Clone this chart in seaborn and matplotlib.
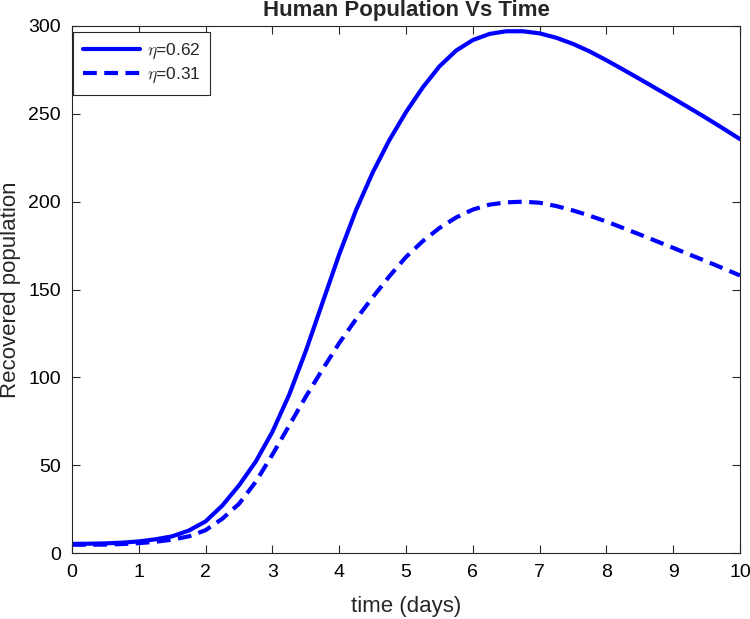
import numpy as np
import pandas as pd
import seaborn as sns
from matplotlib import pyplot as plt

# (co 0.25 dnia)
t = [0, 0.25, 0.5, 0.75, 1, 1.25, 1.5, 1.75, 2, 2.25, 2.5, 2.75, 3, 3.25, 3.5, 3.75,
     4, 4.25, 4.5, 4.75, 5, 5.25, 5.5, 5.75, 6, 6.25, 6.5, 6.75, 7, 7.25, 7.5, 7.75,
     8, 8.25, 8.5, 8.75, 9, 9.25, 9.5, 9.75, 10]
r_062 = [5.2, 5.3, 5.5, 5.9, 6.6, 7.8, 9.5, 12.8, 18, 27, 38.5, 52, 69, 90, 115, 142.5,
         170, 195, 216.5, 235, 251, 265, 277, 286, 292, 295.5, 297, 297, 295.8, 293.3, 289.8, 285.5,
         280.5, 275.2, 269.8, 264.3, 258.8, 253.2, 247.5, 241.6, 235.6]
r_031 = [4.7, 4.7, 4.8, 5.1, 5.6, 6.4, 7.6, 9.5, 13, 19.5, 28, 40.5, 56, 72.5, 89, 104.5,
         119.5, 133, 145.5, 157.5, 168.5, 177.5, 185, 191, 195.5, 198.3, 199.6, 200, 199.4, 197.5, 195, 192,
         188.7, 185, 181.3, 177.5, 173.7, 169.8, 166, 162, 158]
labels = [r'$\eta$=0.62', r'$\eta$=0.31']
xticks = list(range(0, 11))
yticks = list(range(0, 301, 50))

sns.set_style("ticks")
plt.rcParams['font.family'] = ['Liberation Sans', 'DejaVu Sans']
plt.rcParams['mathtext.fontset'] = 'cm'

fig = plt.figure(figsize=(7.5, 6.19), dpi=100)
ax = fig.add_axes([0.096, 0.1066, 0.8907, 0.8514])

sns.lineplot(x=t, y=r_062, ax=ax, color='#0000ff', lw=3, label=labels[0])
sns.lineplot(x=t, y=r_031, ax=ax, color='#0000ff', lw=3, label=labels[1])
ax.lines[1].set_dashes((3.3, 1.8))
ax.lines[1].set_dash_capstyle('butt')

ax.set_xlim(0, 10)
ax.set_ylim(0, 300)
ax.set_xticks(xticks)
ax.set_yticks(yticks)
ax.tick_params(direction='in', length=6, width=0.8, top=True, right=True,
               labelsize=14, colors='#262626', labelcolor='black', pad=8)
for s in ax.spines.values():
    s.set_visible(True)
    s.set_color('#262626')
    s.set_linewidth(0.8)

ax.set_title('Human Population Vs Time', fontsize=16, fontweight='bold', pad=7)
ax.set_xlabel('time (days)', fontsize=16, labelpad=11)
ax.set_ylabel('Recovered population', fontsize=16, labelpad=5)

leg = ax.legend(loc='upper left', bbox_to_anchor=(0.002, 0.988), borderaxespad=0,
                fontsize=12.5, handlelength=3.3, fancybox=False, framealpha=1,
                edgecolor='#262626', handletextpad=0.4, borderpad=0.55,
                labelspacing=0.25)
leg.get_frame().set_linewidth(0.8)
leg.get_lines()[1].set_dashes((3.3, 1.8))

fig.savefig('out.png', dpi=100)
